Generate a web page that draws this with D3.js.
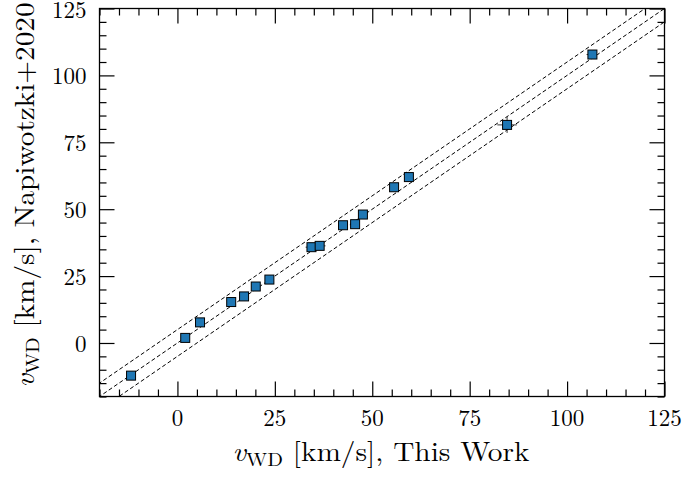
<!DOCTYPE html>
<html><head><meta charset="utf-8">
<script src="https://cdn.jsdelivr.net/npm/d3@7"></script>
<style>body{margin:0;background:#fff}svg{display:block}</style>
</head><body>
<script>
const xThis = [-11.9, 2.0, 5.8, 13.8, 17.1, 20.1, 23.6, 34.4, 36.5, 42.5, 45.6, 47.6, 55.6, 59.4, 84.6, 106.5];
const yNap  = [-12.2, 1.9, 7.7, 15.3, 17.4, 21.1, 23.7, 35.8, 36.3, 44.0, 44.4, 48.0, 58.2, 62.0, 81.5, 107.8];
const xErr  = [1.0, 1.0, 1.0, 1.0, 1.0, 1.0, 1.0, 1.5, 1.5, 1.0, 1.0, 1.0, 1.0, 1.0, 2.5, 1.5];
const yErr  = [1.0, 1.0, 1.0, 1.0, 1.0, 1.0, 1.0, 1.5, 1.5, 1.0, 1.0, 1.0, 1.0, 1.0, 3.0, 1.5];
const tickVals = [0, 25, 50, 75, 100, 125];
const offsets = [0, 5, -5];

const W = 686, H = 479;
const m = {l: 99.5, t: 8.5, r: 664.5, b: 396.5};
const svg = d3.select("body").append("svg").attr("width", W).attr("height", H);
const x = d3.scaleLinear().domain([-20, 125]).range([m.l, m.r]);
const y = d3.scaleLinear().domain([-20, 125]).range([m.b, m.t]);
const font = "'Latin Modern Roman','CMU Serif','Liberation Serif','DejaVu Serif',serif";

svg.append("defs").append("clipPath").attr("id", "clip")
  .append("rect").attr("x", m.l).attr("y", m.t).attr("width", m.r - m.l).attr("height", m.b - m.t);

// dashed lines
const g = svg.append("g").attr("clip-path", "url(#clip)");
offsets.forEach(o => {
  g.append("line")
    .attr("x1", x(-30)).attr("y1", y(-30 + o))
    .attr("x2", x(135)).attr("y2", y(135 + o))
    .attr("stroke", "#000").attr("stroke-width", 1).attr("stroke-dasharray", "4,2.5");
});

// error bars
const pts = xThis.map((v, i) => ({x: v, y: yNap[i], ex: xErr[i], ey: yErr[i]}));
const eb = g.append("g").attr("stroke", "#333").attr("stroke-width", 1);
pts.forEach(p => {
  eb.append("line").attr("x1", x(p.x - p.ex)).attr("x2", x(p.x + p.ex)).attr("y1", y(p.y)).attr("y2", y(p.y));
  eb.append("line").attr("x1", x(p.x)).attr("x2", x(p.x)).attr("y1", y(p.y - p.ey)).attr("y2", y(p.y + p.ey));
});
// markers
const s = 9;
g.selectAll("rect.pt").data(pts).enter().append("rect")
  .attr("x", d => x(d.x) - s / 2).attr("y", d => y(d.y) - s / 2)
  .attr("width", s).attr("height", s)
  .attr("fill", "#1f77b4").attr("stroke", "#000").attr("stroke-width", 1);

// axes with inward ticks
const minor = d3.range(-20, 126, 5);
function ticks(axisFn, scale, transform) {
  svg.append("g").attr("transform", transform)
    .call(axisFn(scale).tickValues(minor.filter(v => v % 25 !== 0)).tickSize(-7).tickFormat(""))
    .call(a => a.select(".domain").remove());
  svg.append("g").attr("transform", transform)
    .call(axisFn(scale).tickValues(tickVals).tickSize(-15).tickFormat(""))
    .call(a => a.select(".domain").remove());
}
ticks(d3.axisBottom, x, `translate(0,${m.b})`);
ticks(d3.axisTop, x, `translate(0,${m.t})`);
ticks(d3.axisLeft, y, `translate(${m.l},0)`);
ticks(d3.axisRight, y, `translate(${m.r},0)`);
svg.selectAll(".tick line").attr("stroke", "#000").attr("stroke-width", 1.2);

svg.append("rect").attr("x", m.l).attr("y", m.t).attr("width", m.r - m.l).attr("height", m.b - m.t)
  .attr("fill", "none").attr("stroke", "#000").attr("stroke-width", 1.3);

// tick labels
svg.append("g").selectAll("text").data(tickVals).enter().append("text")
  .attr("x", d => x(d)).attr("y", m.b + 29).attr("text-anchor", "middle")
  .attr("font-family", font).attr("font-size", 23).text(d => d);
svg.append("g").selectAll("text").data(tickVals).enter().append("text")
  .attr("x", m.l - 13).attr("y", d => y(d) + 9).attr("text-anchor", "end")
  .attr("font-family", font).attr("font-size", 23).text(d => d);

// axis labels
function label(tx, ty, rot, text, len) {
  const el = svg.append("text").attr("font-family", font).attr("font-size", 27)
    .attr("text-anchor", "middle").attr("transform", `translate(${tx},${ty}) rotate(${rot})`)
    .attr("textLength", len).attr("lengthAdjust", "spacingAndGlyphs");
  el.append("tspan").attr("font-style", "italic").text("v");
  el.append("tspan").attr("font-size", 19).attr("dy", 5).text("WD");
  el.append("tspan").attr("dy", -5).text(" " + text);
}
label(381, 461, 0, "[km/s], This Work", 297);
label(34, 195, -90, "[km/s], Napiwotzki+2020", 385);
</script>
</body></html>
